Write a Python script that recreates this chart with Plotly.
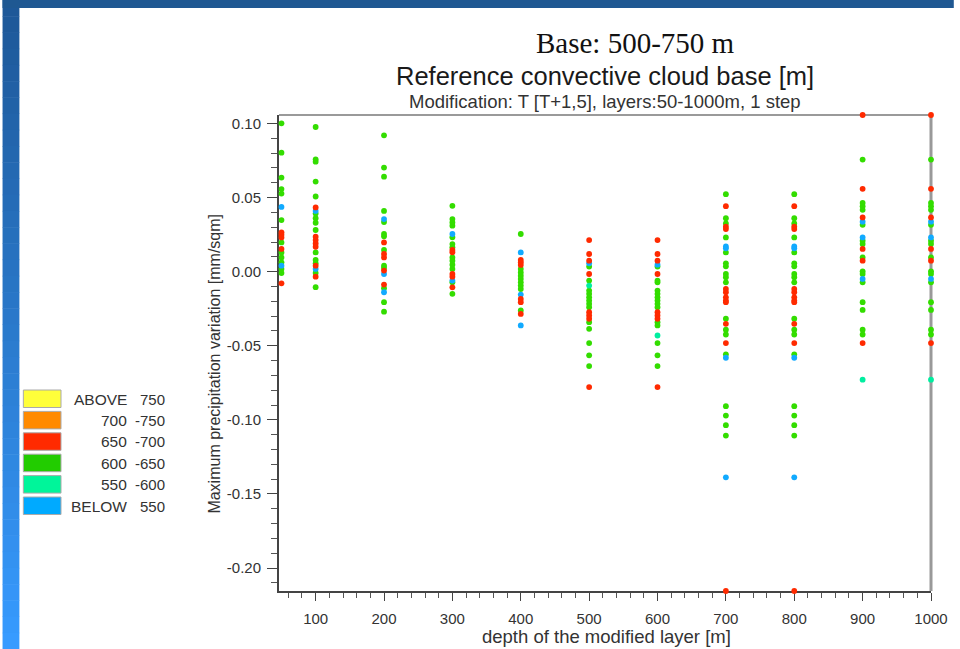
import plotly.graph_objects as go

# ---------------- data ----------------
depths = [50, 100, 200, 300, 400, 500, 600, 700, 800, 900, 1000]

# values per depth column for each reference cloud-base class
green_vals = [
    [0.1001, 0.0803, 0.0635, 0.0557, 0.0527, 0.0348, 0.0197, 0.013, 0.0096, 0.0063, 0.0018, -0.0009],
    [0.0976, 0.0758, 0.0742, 0.0608, 0.0507, 0.0392, 0.0361, 0.033, 0.0281, 0.013, 0.0079, 0.0056, -0.0009, -0.0105],
    [0.092, 0.0702, 0.0641, 0.041, 0.0335, 0.0254, 0.0238, 0.0146, 0.004, 0.0025, -0.0112, -0.0206, -0.027],
    [0.0444, 0.0355, 0.0332, 0.031, 0.0232, 0.0186, 0.0164, 0.0096, 0.0074, 0.0047, 0.0018, -0.0072, -0.015],
    [0.0254, 0.0018, -0.0005, -0.0027, -0.0049, -0.0072, -0.0094, -0.0117, -0.0262],
    [0.0034, -0.006, -0.0128, -0.015, -0.0173, -0.0195, -0.0217, -0.024, -0.0341, -0.0386, -0.0482, -0.0565, -0.0637],
    [0.0034, -0.006, -0.0072, -0.0128, -0.015, -0.0173, -0.0195, -0.0217, -0.024, -0.0341, -0.0363, -0.0482, -0.0565, -0.0637],
    [0.0523, 0.0361, 0.0325, 0.0231, 0.013, 0.0056, 0.0036, -0.0016, -0.0038, -0.0072, -0.0318, -0.0392, -0.0424, -0.0558, -0.0908, -0.0971, -0.1036, -0.1106],
    [0.0523, 0.0361, 0.0325, 0.0231, 0.013, 0.0056, 0.0036, -0.0016, -0.0038, -0.0072, -0.0318, -0.0392, -0.0424, -0.0558, -0.0908, -0.0971, -0.1036, -0.1106],
    [0.0756, 0.0464, 0.0441, 0.0417, 0.0316, 0.0209, 0.0187, 0.0096, 0.0002, -0.0016, -0.0072, -0.0206, -0.0258, -0.0392, -0.0424],
    [0.0756, 0.0464, 0.0441, 0.0417, 0.0316, 0.0209, 0.0187, 0.0096, 0.0002, -0.0016, -0.0072, -0.0206, -0.0258, -0.0392, -0.0424],
]
red_vals = [
    [0.0265, 0.0249, 0.0231, 0.0153, -0.0079],
    [0.0433, 0.0236, 0.0213, 0.019, 0.0168, 0.004, -0.0034],
    [0.0197, 0.0119, 0.0096, 0.0007, -0.0087],
    [0.0146, 0.0131, -0.0016, -0.0034, -0.0106],
    [0.0079, 0.0063, 0.0045, -0.0184, -0.0206, -0.0285],
    [0.0213, 0.0119, 0.0074, -0.0016, -0.0274, -0.0296, -0.0318, -0.0779],
    [0.0213, 0.0119, 0.0074, -0.0016, -0.0274, -0.0296, -0.0318, -0.0779],
    [0.0442, 0.0303, 0.0287, -0.0117, -0.0139, -0.0173, -0.0195, -0.0206, -0.0352, -0.0482, -0.2155],
    [0.0442, 0.0303, 0.0287, -0.0117, -0.0139, -0.0173, -0.0195, -0.0206, -0.0352, -0.0482, -0.2155],
    [0.1057, 0.0559, 0.0366, 0.0153, 0.0074, -0.0482],
    [0.1057, 0.0559, 0.0366, 0.0153, 0.0074, -0.0482],
]
blue_vals = [
    [0.0437, 0.004],
    [0.041, 0.0018],
    [0.0355, -0.0016, -0.0139],
    [0.0254, -0.006],
    [0.013, -0.0155, -0.0363],
    [0.0056],
    [0.0047],
    [0.017, 0.0157, -0.0581, -0.1388],
    [0.017, 0.0157, -0.0581, -0.1388],
    [0.0337, 0.0231, -0.0049],
    [0.0337, 0.0231, -0.0049],
]
aqua_vals = [
    [], [], [], [], [],
    [-0.0094],
    [-0.0431],
    [], [],
    [-0.0729],
    [-0.0729],
]

x_ticks = [100, 200, 300, 400, 500, 600, 700, 800, 900, 1000]
y_ticks = [0.10, 0.05, 0.00, -0.05, -0.10, -0.15, -0.20]
y_ticktext = ["0.10", "0.05", "0.00", "-0.05", "-0.10", "-0.15", "-0.20"]

legend_lo = ["ABOVE", "700", "650", "600", "550", "BELOW"]
legend_hi = ["750", "-750", "-700", "-650", "-600", "550"]
legend_colors = ["#ffff3a", "#ff8a00", "#ff2a00", "#22cc00", "#00f59a", "#00aaff"]

title_top = "Base: 500-750 m"
title_main = "Reference convective cloud base [m]"
title_sub = "Modification: T [T+1,5], layers:50-1000m, 1 step"
x_title = "depth of the modified layer [m]"
y_title = "Maximum precipitation variation [mm/sqm]"

# ---------------- layout geometry ----------------
W, H = 960, 649
ML, MR, MT, MB = 279, 23, 115, 58
PW = W - ML - MR
PH = H - MT - MB


def pxx(x):
    return (x - ML) / PW


def pxy(y):
    return (H - MB - y) / PH


def flatten(vals):
    xs, ys = [], []
    for d, col in zip(depths, vals):
        for v in col:
            xs.append(d)
            ys.append(v)
    return xs, ys


fig = go.Figure()
for vals, color in [(green_vals, "#33dd00"), (aqua_vals, "#00eea0"),
                    (blue_vals, "#11aaff"), (red_vals, "#ff2a00")]:
    xs, ys = flatten(vals)
    fig.add_trace(go.Scatter(x=xs, y=ys, mode="markers",
                             marker=dict(size=5.8, color=color, line=dict(width=0)),
                             cliponaxis=False, showlegend=False, hoverinfo="skip"))

shapes = []
# slide background: top band and left gradient band
n = 40
c0 = (30, 88, 152)
c1 = (55, 155, 255)
for i in range(n):
    t = i / (n - 1)
    col = "rgb(%d,%d,%d)" % tuple(int(a + (b - a) * t) for a, b in zip(c0, c1))
    y0 = i * H / n
    y1 = (i + 1) * H / n + 0.5
    shapes.append(dict(type="rect", xref="paper", yref="paper",
                       x0=pxx(0), x1=pxx(17), y0=pxy(y1), y1=pxy(y0),
                       fillcolor=col, line=dict(width=0), layer="below"))
shapes.append(dict(type="rect", xref="paper", yref="paper",
                   x0=pxx(0), x1=pxx(W), y0=pxy(8), y1=pxy(0),
                   fillcolor="#1f5892", line=dict(width=0), layer="below"))
# frame: top and right
shapes.append(dict(type="line", xref="paper", yref="paper", x0=0, x1=1, y0=1, y1=1,
                   line=dict(color="#9a9a9a", width=2), layer="below"))
shapes.append(dict(type="line", xref="paper", yref="paper", x0=1, x1=1, y0=0, y1=1,
                   line=dict(color="#999999", width=3), layer="below"))

annotations = []
# legend boxes + labels
for i, (lo, hi, col) in enumerate(zip(legend_lo, legend_hi, legend_colors)):
    top = 390 + i * 21.4
    shapes.append(dict(type="rect", xref="paper", yref="paper",
                       x0=pxx(21), x1=pxx(59), y0=pxy(top + 17.5), y1=pxy(top),
                       fillcolor=col, line=dict(color="#aaaaaa", width=1)))
    annotations.append(dict(text=lo, xref="paper", yref="paper", x=pxx(128), y=pxy(top + 9),
                            xanchor="right", yanchor="middle", showarrow=False,
                            font=dict(family="Liberation Sans", size=15.5, color="#333")))
    annotations.append(dict(text=hi, xref="paper", yref="paper", x=pxx(166), y=pxy(top + 9),
                            xanchor="right", yanchor="middle", showarrow=False,
                            font=dict(family="Liberation Sans", size=15, color="#333")))

annotations += [
    dict(text=title_top, xref="paper", yref="paper", x=pxx(638.5), y=pxy(43),
         xanchor="center", yanchor="middle", showarrow=False,
         font=dict(family="Liberation Serif", size=29, color="#111")),
    dict(text=title_main, xref="paper", yref="paper", x=pxx(608), y=pxy(75.5),
         xanchor="center", yanchor="middle", showarrow=False,
         font=dict(family="Liberation Sans", size=25.5, color="#1a1a1a")),
    dict(text=title_sub, xref="paper", yref="paper", x=pxx(608.5), y=pxy(101.5),
         xanchor="center", yanchor="middle", showarrow=False,
         font=dict(family="Liberation Sans", size=18.5, color="#333")),
    dict(text=x_title, xref="paper", yref="paper", x=pxx(610), y=pxy(636),
         xanchor="center", yanchor="middle", showarrow=False,
         font=dict(family="Liberation Sans", size=18.5, color="#333")),
    dict(text=y_title, xref="paper", yref="paper", x=pxx(213), y=pxy(364),
         xanchor="center", yanchor="middle", showarrow=False, textangle=-90,
         font=dict(family="Liberation Sans", size=16, color="#333")),
]

fig.update_layout(
    width=W, height=H,
    margin=dict(l=ML, r=MR, t=MT, b=MB, pad=0),
    paper_bgcolor="white", plot_bgcolor="white",
    shapes=shapes, annotations=annotations,
    xaxis=dict(range=[46.4, 1000], tickmode="array", tickvals=x_ticks,
               ticks="outside", ticklen=8, tickwidth=1, tickcolor="#444",
               minor=dict(tickmode="linear", tick0=0, dtick=20, ticks="outside",
                          ticklen=5, tickwidth=1, tickcolor="#555"),
               showgrid=False, zeroline=False, showline=True, linecolor="#444",
               linewidth=2, layer="below traces", ticklabelstandoff=5,
               tickfont=dict(family="Liberation Sans", size=15, color="#333")),
    yaxis=dict(range=[-0.2155, 0.1057], tickmode="array", tickvals=y_ticks,
               ticktext=y_ticktext,
               ticks="outside", ticklen=10, tickwidth=1, tickcolor="#444",
               minor=dict(tickmode="linear", tick0=0, dtick=0.01, ticks="outside",
                          ticklen=6, tickwidth=1, tickcolor="#555"),
               showgrid=False, zeroline=False, showline=True, linecolor="#444",
               linewidth=2, layer="below traces", ticklabelstandoff=3,
               tickfont=dict(family="Liberation Sans", size=15, color="#333")),
)

fig.write_html("out.html")
